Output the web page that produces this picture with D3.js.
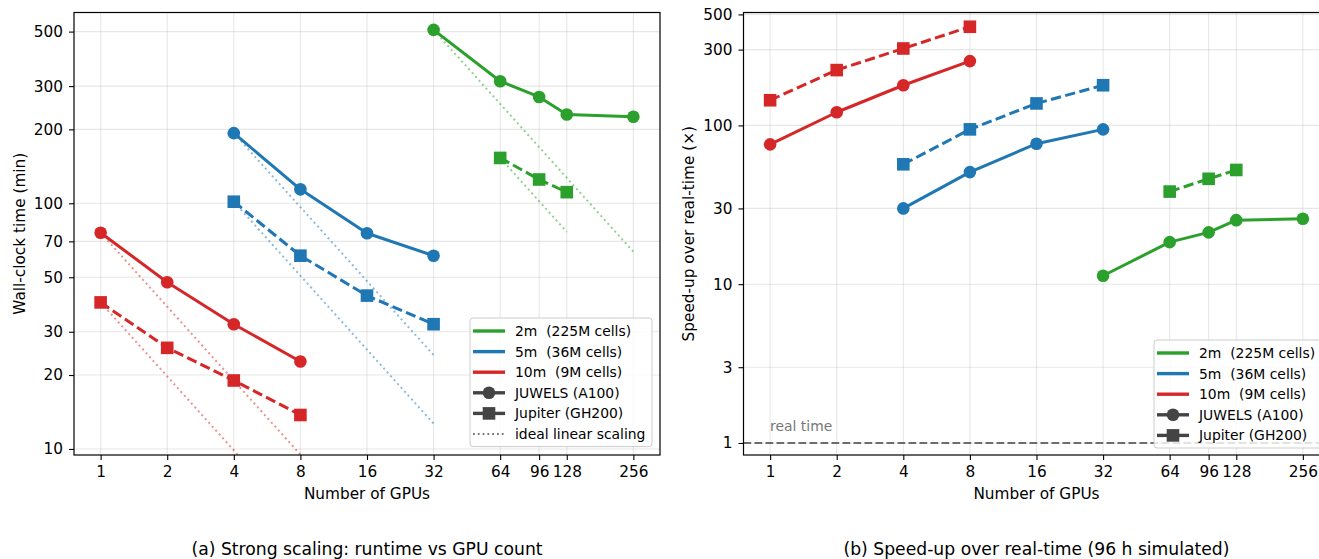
<!DOCTYPE html>
<html>
<head>
<meta charset="utf-8">
<script src="https://cdn.jsdelivr.net/npm/d3@7"></script>
<style>
body { margin: 0; background: #fff; }
svg { display: block; font-family: "DejaVu Sans", sans-serif; }
text { white-space: pre; }
</style>
</head>
<body>
<script>
// gpu counts per run
var gpus2mJuwels = [32, 64, 96, 128, 256];
var gpus2mJupiter = [64, 96, 128];
var gpus5m = [4, 8, 16, 32];
var gpus10m = [1, 2, 4, 8];

// wall-clock time in minutes (panel a)
var time2mJuwels = [508, 314, 271, 230, 225];
var time2mJupiter = [153, 125, 111];
var time5mJuwels = [193, 114, 75.5, 61.2];
var time5mJupiter = [101.5, 61.2, 42.1, 32.2];
var time10mJuwels = [75.9, 47.7, 32.2, 22.7];
var time10mJupiter = [39.5, 25.8, 19.0, 13.75];

// speed-up over real-time (panel b)
var speed2mJuwels = [11.3, 18.4, 21.2, 25.3, 25.8];
var speed2mJupiter = [38.3, 46.1, 52.4];
var speed5mJuwels = [30, 50.8, 76.7, 94.4];
var speed5mJupiter = [56.9, 94.4, 137.5, 179];
var speed10mJuwels = [75.9, 121, 179, 254];
var speed10mJupiter = [144, 223, 305, 418];

// ticks
var xTicks = [1, 2, 4, 8, 16, 32, 64, 96, 128, 256];
var timeTicks = [10, 20, 30, 50, 70, 100, 200, 300, 500];
var speedTicks = [1, 3, 10, 30, 100, 300, 500];

var resLabels = ["2m  (225M cells)", "5m  (36M cells)", "10m  (9M cells)"];
var machineLabels = ["JUWELS (A100)", "Jupiter (GH200)"];

var colors = {"2m": "#2ca02c", "5m": "#1f77b4", "10m": "#d62728"};

// build series list from the arrays above
var series = [
    {res: "2m", machine: "juwels", gpus: gpus2mJuwels, time: time2mJuwels, speed: speed2mJuwels},
    {res: "2m", machine: "jupiter", gpus: gpus2mJupiter, time: time2mJupiter, speed: speed2mJupiter},
    {res: "5m", machine: "juwels", gpus: gpus5m, time: time5mJuwels, speed: speed5mJuwels},
    {res: "5m", machine: "jupiter", gpus: gpus5m, time: time5mJupiter, speed: speed5mJupiter},
    {res: "10m", machine: "juwels", gpus: gpus10m, time: time10mJuwels, speed: speed10mJuwels},
    {res: "10m", machine: "jupiter", gpus: gpus10m, time: time10mJupiter, speed: speed10mJupiter}
];

var width = 1319;
var height = 559;
// note: "top" is taken by window.top, so axTop
var axTop = 12.5, axBottom = 455, axW = 586;

var svg = d3.select("body").append("svg")
    .attr("width", width)
    .attr("height", height);

function drawPanel(p) {
    var x = d3.scaleLog().base(2).domain([0.758, 337.8]).range([p.left, p.left + axW]);
    var y = d3.scaleLog().domain(p.yDomain).range([axBottom, axTop]);

    svg.append("clipPath").attr("id", "clip" + p.id)
        .append("rect")
        .attr("x", p.left).attr("y", axTop)
        .attr("width", axW).attr("height", axBottom - axTop);

    var g = svg.append("g");

    // grid
    g.append("g").selectAll("line").data(xTicks).enter().append("line")
        .attr("x1", function(d) { return x(d); })
        .attr("x2", function(d) { return x(d); })
        .attr("y1", axTop).attr("y2", axBottom)
        .attr("stroke", "#b0b0b0").attr("stroke-opacity", 0.3).attr("stroke-width", 1.1);
    g.append("g").selectAll("line").data(p.yTicks).enter().append("line")
        .attr("x1", p.left).attr("x2", p.left + axW)
        .attr("y1", function(d) { return y(d); })
        .attr("y2", function(d) { return y(d); })
        .attr("stroke", "#b0b0b0").attr("stroke-opacity", 0.3).attr("stroke-width", 1.1);

    var plot = g.append("g").attr("clip-path", "url(#clip" + p.id + ")");

    var line = d3.line()
        .x(function(d) { return x(d[0]); })
        .y(function(d) { return y(d[1]); });

    // ideal linear scaling, only on the runtime panel
    if (p.ideal) {
        series.forEach(function(s) {
            var n0 = s.gpus[0], t0 = s[p.key][0];
            var n1 = s.gpus[s.gpus.length - 1];
            plot.append("path")
                .attr("d", line([[n0, t0], [n1, t0 * n0 / n1]]))
                .attr("fill", "none")
                .attr("stroke", colors[s.res])
                .attr("stroke-opacity", 0.5)
                .attr("stroke-width", 2)
                .attr("stroke-dasharray", "2,3.2");
        });
    }

    // reference line at 1x
    if (p.realTime) {
        plot.append("line")
            .attr("x1", p.left).attr("x2", p.left + axW)
            .attr("y1", y(1)).attr("y2", y(1))
            .attr("stroke", "#555").attr("stroke-opacity", 0.85)
            .attr("stroke-width", 2)
            .attr("stroke-dasharray", "7.7,3.3");
        g.append("text")
            .attr("x", x(1)).attr("y", 430.5)
            .attr("font-size", "13.9px")
            .attr("fill", "#777")
            .text("real time");
    }

    series.forEach(function(s) {
        var pts = s.gpus.map(function(n, i) { return [n, s[p.key][i]]; });
        var c = colors[s.res];
        plot.append("path")
            .attr("d", line(pts))
            .attr("fill", "none")
            .attr("stroke", c)
            .attr("stroke-width", 3)
            .attr("stroke-linejoin", "round")
            .attr("stroke-dasharray", s.machine == "jupiter" ? "10.3,4.4" : null);
        if (s.machine == "juwels") {
            plot.selectAll(null).data(pts).enter().append("circle")
                .attr("cx", function(d) { return x(d[0]); })
                .attr("cy", function(d) { return y(d[1]); })
                .attr("r", 6.3)
                .attr("fill", c);
        } else {
            plot.selectAll(null).data(pts).enter().append("rect")
                .attr("x", function(d) { return x(d[0]) - 6.3; })
                .attr("y", function(d) { return y(d[1]) - 6.3; })
                .attr("width", 12.6).attr("height", 12.6)
                .attr("fill", c);
        }
    });

    // axes
    var xAxis = g.append("g")
        .attr("transform", "translate(0," + axBottom + ")")
        .call(d3.axisBottom(x).tickValues(xTicks).tickFormat(d3.format("d")).tickSize(5).tickPadding(6));
    var yAxis = g.append("g")
        .attr("transform", "translate(" + p.left + ",0)")
        .call(d3.axisLeft(y).tickValues(p.yTicks).tickFormat(d3.format("d")).tickSize(5).tickPadding(6));
    [xAxis, yAxis].forEach(function(a) {
        a.select(".domain").remove();
        a.attr("font-family", null).attr("font-size", "15.3px");
        a.selectAll(".tick line").attr("stroke", "#000").attr("stroke-width", 1.1);
        a.selectAll(".tick text").attr("fill", "#000");
    });

    // frame
    g.append("rect")
        .attr("x", p.left).attr("y", axTop)
        .attr("width", axW).attr("height", axBottom - axTop)
        .attr("fill", "none").attr("stroke", "#000").attr("stroke-width", 1.2);

    // labels
    var cx = p.left + axW / 2;
    g.append("text")
        .attr("x", cx).attr("y", 499)
        .attr("text-anchor", "middle").attr("font-size", "15.3px")
        .text("Number of GPUs");
    g.append("text")
        .attr("transform", "translate(" + p.yLabelX + "," + ((axTop + axBottom) / 2) + ") rotate(-90)")
        .attr("text-anchor", "middle").attr("font-size", "15.3px")
        .text(p.yLabel);
    g.append("text")
        .attr("x", cx).attr("y", 555)
        .attr("text-anchor", "middle").attr("font-size", "17.2px")
        .text(p.caption);

    // legend
    var lg = g.append("g");
    var items = [];
    resLabels.forEach(function(l, i) { items.push({label: l, color: colors[["2m", "5m", "10m"][i]], kind: "line"}); });
    items.push({label: machineLabels[0], color: "#444", kind: "circle"});
    items.push({label: machineLabels[1], color: "#444", kind: "square"});
    if (p.ideal) items.push({label: "ideal linear scaling", color: "#777", kind: "dot"});

    lg.append("rect")
        .attr("x", p.legend.x).attr("y", p.legend.y)
        .attr("width", p.legend.w).attr("height", items.length * 20.6 + 5)
        .attr("rx", 3)
        .attr("fill", "#fff").attr("fill-opacity", 0.8)
        .attr("stroke", "#ccc").attr("stroke-width", 1);

    items.forEach(function(it, i) {
        var cy = p.legend.y + 13 + i * 20.6;
        var hx = p.legend.x + 3, hw = 32;
        lg.append("line")
            .attr("x1", hx).attr("x2", hx + hw)
            .attr("y1", cy).attr("y2", cy)
            .attr("stroke", it.color)
            .attr("stroke-width", it.kind == "dot" ? 1.8 : 3.4)
            .attr("stroke-dasharray", it.kind == "dot" ? "1.8,3" : null);
        if (it.kind == "circle") {
            lg.append("circle").attr("cx", hx + hw / 2).attr("cy", cy).attr("r", 6.3).attr("fill", it.color);
        }
        if (it.kind == "square") {
            lg.append("rect").attr("x", hx + hw / 2 - 6.3).attr("y", cy - 6.3)
                .attr("width", 12.6).attr("height", 12.6).attr("fill", it.color);
        }
        lg.append("text")
            .attr("x", hx + hw + 10).attr("y", cy + 5)
            .attr("font-size", "13.9px")
            .text(it.label);
    });
}

drawPanel({
    id: "a", left: 74, key: "time",
    yDomain: [9.45, 598], yTicks: timeTicks,
    yLabel: "Wall-clock time (min)", yLabelX: 25,
    caption: "(a) Strong scaling: runtime vs GPU count",
    ideal: true, realTime: false,
    legend: {x: 470, y: 318, w: 182}
});

drawPanel({
    id: "b", left: 743.5, key: "speed",
    yDomain: [0.84, 514], yTicks: speedTicks,
    yLabel: "Speed-up over real-time (\u00d7)", yLabelX: 694,
    caption: "(b) Speed-up over real-time (96 h simulated)",
    ideal: false, realTime: true,
    legend: {x: 1154, y: 340, w: 169}
});
</script>
</body>
</html>
